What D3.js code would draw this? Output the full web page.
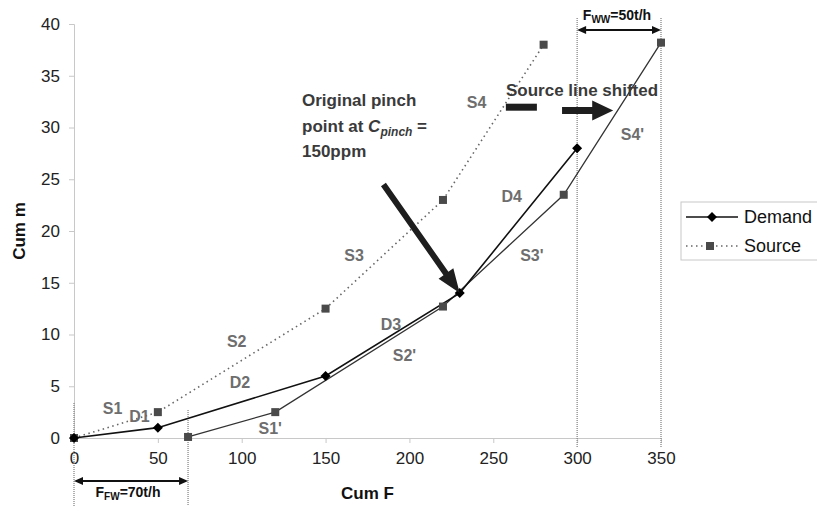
<!DOCTYPE html>
<html><head><meta charset="utf-8">
<script src="https://cdn.jsdelivr.net/npm/d3@7"></script>
<style>
body{margin:0;background:#fff;}
svg{display:block;font-family:"Liberation Sans",Arial,sans-serif;}
</style></head>
<body>
<svg id="c" width="817" height="506"></svg>
<script>
// ---- data ----
const demandF = [0, 50, 150, 230, 300];
const demandM = [0, 1, 6, 14, 28];
const sourceF = [0, 50, 150, 220, 280];
const sourceM = [0, 2.5, 12.5, 23, 38];
const shiftedF = [68, 120, 220, 292, 350];
const shiftedM = [0.1, 2.5, 12.7, 23.5, 38.2];
const xTicks = [0, 50, 100, 150, 200, 250, 300, 350];
const yTicks = [0, 5, 10, 15, 20, 25, 30, 35, 40];
const segLabels = [
  {t:"S1", f:23, m:2.9}, {t:"D1", f:39, m:2.1}, {t:"S2", f:97, m:9.3},
  {t:"D2", f:99, m:5.4}, {t:"S1'", f:117, m:0.9}, {t:"S3", f:167, m:17.6},
  {t:"D3", f:189, m:11.0}, {t:"S2'", f:197, m:8.0}, {t:"S4", f:240, m:32.4},
  {t:"D4", f:261, m:23.3}, {t:"S3'", f:273, m:17.6}, {t:"S4'", f:333, m:29.3}
];
const fwLabel = ["F", "FW", "=70t/h"];
const wwLabel = ["F", "WW", "=50t/h"];
const pinchText = ["Original pinch", "point at ", "C", "pinch", " =", "150ppm"];
const shiftText = "Source line shifted";
const legendNames = ["Demand", "Source"];

const svg = d3.select("#c");
const x = d3.scaleLinear().domain([0, 350]).range([74, 661]);
const y = d3.scaleLinear().domain([0, 40]).range([438, 24]);

// axes
const xAxis = svg.append("g").attr("transform", `translate(0,${y(0)})`)
  .call(d3.axisBottom(x).tickValues(xTicks).tickSize(5).tickPadding(9));
const yAxis = svg.append("g").attr("transform", `translate(${x(0)},0)`)
  .call(d3.axisLeft(y).tickValues(yTicks).tickSize(5).tickPadding(9));
[xAxis, yAxis].forEach(a => {
  a.select(".domain").attr("stroke", "#c8c8c8");
  a.selectAll(".tick line").attr("stroke", "#c8c8c8");
  a.selectAll(".tick text").attr("font-size", 17).attr("fill", "#222")
    .attr("font-family", "Liberation Sans, Arial, sans-serif");
});

// axis titles
svg.append("text").attr("x", (x(0)+x(350))/2).attr("y", 499).attr("text-anchor","middle")
  .attr("font-weight","bold").attr("font-size",17).attr("fill","#111").text("Cum F");
svg.append("text").attr("transform", `translate(25,${(y(0)+y(40))/2}) rotate(-90)`)
  .attr("text-anchor","middle").attr("font-weight","bold").attr("font-size",17).attr("fill","#111").text("Cum m");

// dotted reference verticals
const vline = (f, y1, y2) => svg.append("line").attr("x1", x(f)).attr("x2", x(f))
  .attr("y1", y1).attr("y2", y2).attr("stroke", "#888").attr("stroke-width", 1.3)
  .attr("stroke-dasharray", "1,1");
vline(0, 403, 506);
vline(shiftedF[0], 410, 506);
vline(300, 18, 447);
vline(350, 18, 447);

// line generator
const line = d3.line().x(d => x(d[0])).y(d => y(d[1]));
const demand = demandF.map((f, i) => [f, demandM[i]]);
const source = sourceF.map((f, i) => [f, sourceM[i]]);
const shifted = shiftedF.map((f, i) => [f, shiftedM[i]]);

svg.append("path").datum(source).attr("d", line).attr("fill","none")
  .attr("stroke","#666").attr("stroke-width",1.6).attr("stroke-dasharray","1.5,3.5");
svg.append("path").datum(shifted).attr("d", line).attr("fill","none")
  .attr("stroke","#333").attr("stroke-width",1.3);
svg.append("path").datum(demand).attr("d", line).attr("fill","none")
  .attr("stroke","#111").attr("stroke-width",1.6);

const sq = 8;
svg.selectAll(".srcpt").data(source.concat(shifted)).enter().append("rect")
  .attr("x", d => x(d[0]) - sq/2).attr("y", d => y(d[1]) - sq/2)
  .attr("width", sq).attr("height", sq).attr("fill", "#4a4a4a");
const diamond = "M0,-5L5,0L0,5L-5,0Z";
svg.selectAll(".dempt").data(demand).enter().append("path")
  .attr("d", diamond).attr("transform", d => `translate(${x(d[0])},${y(d[1])})`)
  .attr("fill", "#000");

// segment labels
svg.selectAll(".seg").data(segLabels).enter().append("text")
  .attr("x", d => x(d.f)).attr("y", d => y(d.m)).attr("dy", "0.35em")
  .attr("text-anchor","middle").attr("font-weight","bold").attr("font-size",16)
  .attr("fill","#6e6e6e").text(d => d.t);

// pinch annotation text
const pt = svg.append("g").attr("font-weight","bold").attr("font-size",17).attr("fill","#3a3a3a");
pt.append("text").attr("x",302).attr("y",106).text(pinchText[0]);
const t2 = pt.append("text").attr("x",302).attr("y",132);
t2.append("tspan").text(pinchText[1]);
t2.append("tspan").attr("font-style","italic").text(pinchText[2]);
t2.append("tspan").attr("font-style","italic").attr("font-size",12).attr("dy",4).text(pinchText[3]);
t2.append("tspan").attr("dy",-4).text(pinchText[4]);
pt.append("text").attr("x",302).attr("y",157).text(pinchText[5]);

// big arrow helper
function arrow(x1, y1, x2, y2, w, hw, hl) {
  const dx = x2-x1, dy = y2-y1, L = Math.hypot(dx,dy), ux = dx/L, uy = dy/L, nx = -uy, ny = ux;
  const bx = x2 - ux*hl, by = y2 - uy*hl;
  const pts = [
    [x1+nx*w/2, y1+ny*w/2], [bx+nx*w/2, by+ny*w/2], [bx+nx*hw, by+ny*hw], [x2, y2],
    [bx-nx*hw, by-ny*hw], [bx-nx*w/2, by-ny*w/2], [x1-nx*w/2, y1-ny*w/2]];
  return "M" + pts.map(p => p.join(",")).join("L") + "Z";
}
svg.append("path").attr("d", arrow(x(184.5), y(24.5), x(230), y(14), 6, 9, 24)).attr("fill","#1e1e1e");

// source line shifted
svg.append("text").attr("x",506).attr("y",96).attr("font-weight","bold").attr("font-size",17)
  .attr("fill","#3a3a3a").text(shiftText);
svg.append("rect").attr("x", x(257.5)).attr("y", y(32.3)).attr("width", x(276)-x(257.5))
  .attr("height", 7).attr("fill","#1e1e1e");
svg.append("path").attr("d", arrow(x(291), y(31.65), x(321.5), y(31.65), 7, 10, 21)).attr("fill","#1e1e1e");

// double arrows
function dblArrow(xa, xb, yy) {
  const g = svg.append("g");
  g.append("line").attr("x1", xa+4).attr("x2", xb-4).attr("y1", yy).attr("y2", yy)
    .attr("stroke","#111").attr("stroke-width",1.8);
  g.append("path").attr("d", `M${xa},${yy}L${xa+9},${yy-4}L${xa+9},${yy+4}Z`).attr("fill","#111");
  g.append("path").attr("d", `M${xb},${yy}L${xb-9},${yy-4}L${xb-9},${yy+4}Z`).attr("fill","#111");
}
dblArrow(x(0), x(shiftedF[0]), 481);
dblArrow(x(300), x(350), 30);

function subLabel(parts, cx, by) {
  const t = svg.append("text").attr("x", cx).attr("y", by).attr("text-anchor","middle")
    .attr("font-weight","bold").attr("font-size",14).attr("fill","#111");
  t.append("tspan").text(parts[0]);
  t.append("tspan").attr("font-size",10).attr("dy",3).text(parts[1]);
  t.append("tspan").attr("dy",-3).text(parts[2]);
}
subLabel(fwLabel, 128, 497);
subLabel(wwLabel, 617, 20);

// legend
const lg = svg.append("g");
lg.append("rect").attr("x",681).attr("y",202).attr("width",150).attr("height",58)
  .attr("fill","#fff").attr("stroke","#c8c8c8");
lg.append("line").attr("x1",686).attr("x2",738).attr("y1",217).attr("y2",217)
  .attr("stroke","#111").attr("stroke-width",1.6);
lg.append("path").attr("d", diamond).attr("transform","translate(712,217)").attr("fill","#000");
lg.append("line").attr("x1",686).attr("x2",738).attr("y1",246).attr("y2",246)
  .attr("stroke","#666").attr("stroke-width",1.6).attr("stroke-dasharray","1.5,3.5");
lg.append("rect").attr("x",706).attr("y",242).attr("width",8).attr("height",8).attr("fill","#4a4a4a");
lg.selectAll(".lt").data(legendNames).enter().append("text")
  .attr("x",744).attr("y",(d,i)=>217+i*29).attr("dy","0.35em")
  .attr("font-size",18).attr("fill","#111").text(d=>d);
</script>
</body></html>
